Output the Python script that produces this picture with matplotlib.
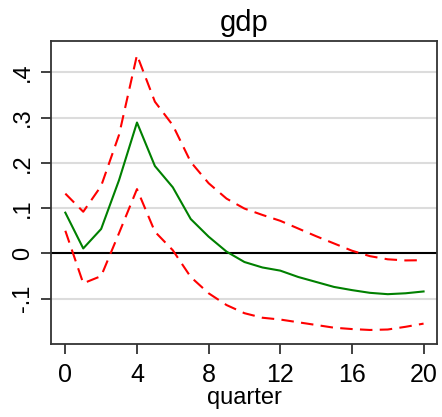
import matplotlib
matplotlib.use("Agg")
import matplotlib.pyplot as plt

plt.rcParams['font.family'] = ['Liberation Sans', 'DejaVu Sans']

quarter = list(range(21))
irf = [0.090, 0.011, 0.054, 0.162, 0.289, 0.193, 0.146, 0.076, 0.037, 0.004,
       -0.019, -0.031, -0.038, -0.052, -0.063, -0.074, -0.081, -0.087, -0.090, -0.088, -0.084]
upper = [0.132, 0.092, 0.149, 0.262, 0.438, 0.335, 0.283, 0.202, 0.155, 0.121,
         0.099, 0.085, 0.072, 0.055, 0.038, 0.022, 0.006, -0.006, -0.013, -0.0155, -0.015]
lower = [0.050, -0.066, -0.050, 0.045, 0.142, 0.048, 0.007, -0.052, -0.088, -0.114,
         -0.132, -0.142, -0.146, -0.152, -0.158, -0.164, -0.167, -0.169, -0.168, -0.162, -0.155]

yticks = [-0.1, 0, 0.1, 0.2, 0.3, 0.4]
ylabels = ["-.1", "0", ".1", ".2", ".3", ".4"]
xticks = [0, 4, 8, 12, 16, 20]

fig = plt.figure(figsize=(4.42, 4.17), dpi=100)
ax = fig.add_axes([51/442, 1 - 344/417, (437 - 51)/442, (344 - 41)/417])

for y in yticks:
    if y != 0:
        ax.axhline(y, color='#dcdcdc', lw=1.5, zorder=0)
ax.axhline(0, color='black', lw=1.5, zorder=1)

ax.plot(quarter, upper, color='red', lw=1.5, ls=(0, (6, 3.5)), zorder=2)
ax.plot(quarter, lower, color='red', lw=1.5, ls=(0, (6, 3.5)), zorder=2)
ax.plot(quarter, irf, color='green', lw=1.5, zorder=3)

ax.set_xlim(-0.8, 20.75)
ax.set_ylim(-0.200, 0.469)
ax.set_xticks(xticks)
ax.set_xticklabels([str(x) for x in xticks], fontsize=18)
ax.set_yticks(yticks)
ax.set_yticklabels(ylabels, fontsize=17, rotation=90, va='center')
ax.tick_params(length=7, width=1.3, color='#333333')
ax.tick_params(axis='x', pad=7)
ax.tick_params(axis='y', pad=5)
for s in ax.spines.values():
    s.set_color('#333333')
    s.set_linewidth(1.3)

ax.set_xlabel("quarter", fontsize=17, labelpad=0)
ax.set_title("gdp", fontsize=21, pad=7)

fig.savefig("out.png", dpi=100)
